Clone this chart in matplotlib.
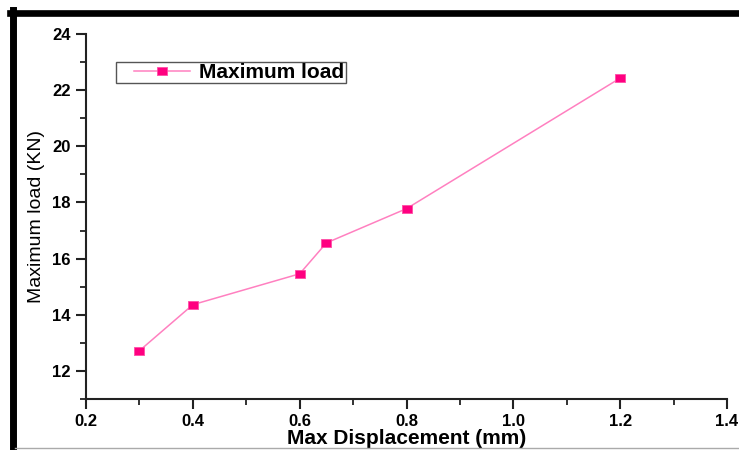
import matplotlib.pyplot as plt
from matplotlib.lines import Line2D
from matplotlib.legend_handler import HandlerLine2D
from matplotlib.ticker import MultipleLocator

# -----------------------------
# Data
# -----------------------------
displacement = [0.3, 0.4, 0.6, 0.65, 0.8, 1.2]
max_load = [12.72, 14.36, 15.46, 16.56, 17.78, 22.43]

x_ticks = [0.2, 0.4, 0.6, 0.8, 1.0, 1.2, 1.4]
y_ticks = [12, 14, 16, 18, 20, 22, 24]

# -----------------------------
# Style
# -----------------------------
plt.rcParams["font.family"] = ["Liberation Sans", "DejaVu Sans"]
LINE_COLOR = "#ff80c0"
MARKER_COLOR = "#ff0080"

# wide rectangle marker (the original image is stretched horizontally)
rect_marker = [(-1.35, -1), (1.35, -1), (1.35, 1), (-1.35, 1), (-1.35, -1)]

fig = plt.figure(figsize=(7.39, 4.5), dpi=100)
ax = fig.add_axes([0.1164, 0.1133, 0.8674, 0.8111])

line, = ax.plot(displacement, max_load, color=LINE_COLOR, lw=1.1,
                marker=rect_marker, markersize=7.5,
                markerfacecolor=MARKER_COLOR, markeredgecolor="#ff4da6",
                markeredgewidth=0.6, label="Maximum load")

ax.set_xlim(0.2, 1.4)
ax.set_ylim(11, 24)
ax.set_xticks(x_ticks)
ax.set_yticks(y_ticks)
ax.set_xticklabels([f"{v:.1f}" for v in x_ticks])
ax.xaxis.set_minor_locator(MultipleLocator(0.1))
ax.yaxis.set_minor_locator(MultipleLocator(1))

for side in ["top", "right"]:
    ax.spines[side].set_visible(False)
for side in ["left", "bottom"]:
    ax.spines[side].set_linewidth(1.5)
    ax.spines[side].set_color("#222222")

ax.tick_params(which="major", direction="out", length=7, width=1.5,
               labelsize=12, colors="#222222", pad=4)
ax.tick_params(which="minor", direction="out", length=4, width=1.3,
               colors="#222222")
for lbl in ax.get_xticklabels() + ax.get_yticklabels():
    lbl.set_fontweight("bold")
    lbl.set_color("black")

ax.set_xlabel("Max Displacement (mm)", fontsize=15, fontweight="bold",
              labelpad=0)
ax.set_ylabel("Maximum load (KN)", fontsize=14, labelpad=5)

# -----------------------------
# Legend (Origin style, handle indented from the frame)
# -----------------------------
leg = ax.legend(loc="upper left", bbox_to_anchor=(116 / 739, 388 / 450),
                bbox_transform=fig.transFigure, borderaxespad=0,
                fancybox=False, framealpha=1, edgecolor="#555555",
                handlelength=3.5, borderpad=0.05, handletextpad=0.45,
                handler_map={line: HandlerLine2D(xpad=0.8)},
                prop={"size": 15, "weight": "bold"})
leg.get_frame().set_linewidth(1.0)

# -----------------------------
# Frame around the picture
# -----------------------------
fig.add_artist(Line2D([10 / 739, 1], [1 - 12.5 / 450, 1 - 12.5 / 450],
                      transform=fig.transFigure, color="black", lw=4.8))
fig.add_artist(Line2D([12.5 / 739, 12.5 / 739], [0, 1 - 9.5 / 450],
                      transform=fig.transFigure, color="black", lw=5.0))
fig.add_artist(Line2D([15 / 739, 1], [2.5 / 450, 2.5 / 450],
                      transform=fig.transFigure, color="#aaaaaa", lw=1.0))

fig.savefig("out.png", dpi=100)
